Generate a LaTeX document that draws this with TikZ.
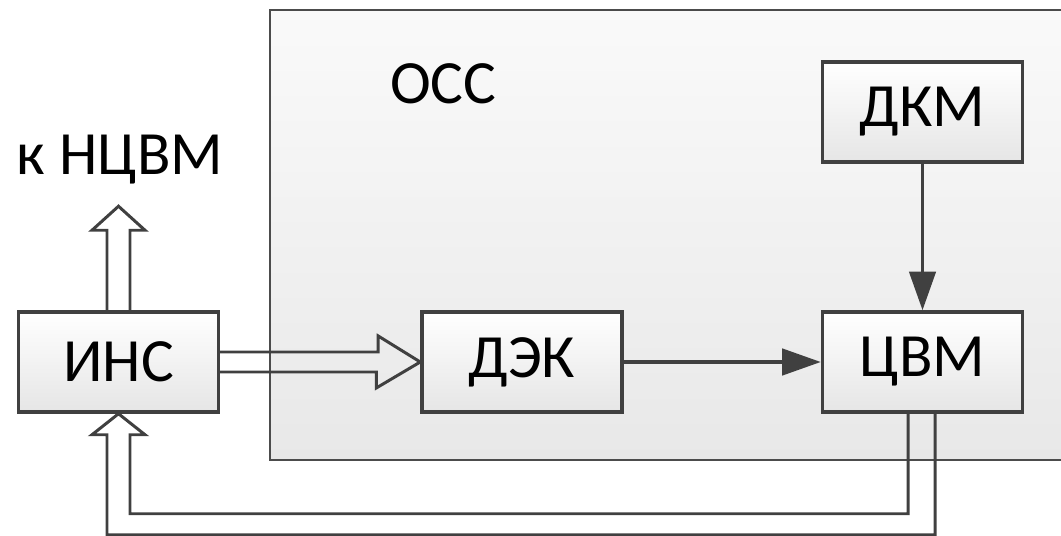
\documentclass[tikz,border=0pt]{standalone}
\usepackage{fontspec}
\setmainfont{Carlito}
\usetikzlibrary{arrows.meta,calc}
\tikzset{
  block/.style={draw=black!75, line width=2pt, top color=white, bottom color=black!10,
    minimum width=4cm, minimum height=2cm, inner sep=0pt, font=\fontsize{35}{42}\selectfont},
  hollow/.style={draw=black!75, line width=1.7pt, line join=miter},
  link/.style={draw=black!75, line width=2pt, -{Triangle[length=22pt, width=15pt]}}
}
\begin{document}
\begin{tikzpicture}[x=0.02cm, y=-0.02cm]
  \clip (0,0) rectangle (1061,536);
  % OSS frame
  \draw[black!70, line width=1.1pt, top color=black!2, bottom color=black!9] (270,10) rectangle (1090,460);
  \node (oss) at (443,84) {\fontsize{35}{42}\selectfont ОСС};
  % blocks
  \node[block] (ins) at (118.5,362) {ИНС};
  \node[block] (dek) at (522,362) {ДЭК};
  \node[block] (cvm) at (922.5,362) {ЦВМ};
  \node[block] (dkm) at (922.5,112) {ДКМ};
  \node (nc) at (120,160) {\fontsize{35}{42}\selectfont к НЦВМ};
  % thin arrows
  \draw[link] (dkm) -- (cvm);
  \draw[link] (dek) -- (cvm);
  % hollow arrows
  \draw[hollow] ($(ins.north)+(-11.5,0)$) -- ++(0,-80) -- ++(-15,0) -- ($(ins.north)+(0,-104)$)
    -- ++(26.5,24) -- ++(-15,0) -- ($(ins.north)+(11.5,0)$);
  \draw[hollow] ($(ins.east)+(0,-10)$) -- ++(158,0) -- ++(0,-16) -- (dek.west)
    -- ++(-44,26) -- ++(0,-16) -- ($(ins.east)+(0,10)$);
  \draw[hollow] ($(cvm.south)+(12.5,0)$) |- ($(ins.south)+(-11.5,121)$) -- ($(ins.south)+(-11.5,21)$)
    -- ++(-15,0) -- (ins.south) -- ++(26.5,21) -- ++(-15,0) |- ($(cvm.south)+(-14.5,100)$)
    -- ($(cvm.south)+(-14.5,0)$);
\end{tikzpicture}
\end{document}
